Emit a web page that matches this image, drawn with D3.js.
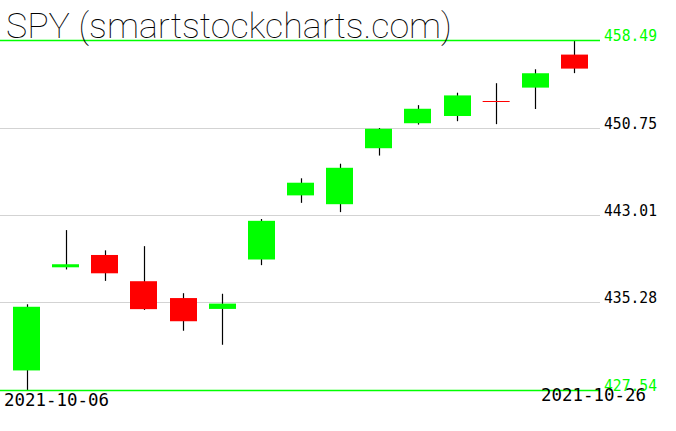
<!DOCTYPE html>
<html><head><meta charset="utf-8">
<script src="https://cdn.jsdelivr.net/npm/d3@7"></script>
<style>body{margin:0;background:#fff}svg{display:block}</style>
</head><body><svg id="c" width="676" height="431"></svg>
<script>
const dates = ["2021-10-06","2021-10-07","2021-10-08","2021-10-11","2021-10-12","2021-10-13","2021-10-14","2021-10-15","2021-10-18","2021-10-19","2021-10-20","2021-10-21","2021-10-22","2021-10-25","2021-10-26"];
const opens  = [429.27,438.39,439.48,437.16,435.67,434.71,439.08,444.75,443.97,448.92,451.13,451.77,453.13,454.28,457.20];
const highs  = [435.12,441.68,439.89,440.26,436.10,436.05,442.66,446.26,447.55,450.71,452.73,453.83,454.67,455.90,458.49];
const lows   = [427.54,438.20,437.19,434.62,432.78,431.54,438.58,444.09,443.27,448.27,451.01,451.31,451.05,452.39,455.56];
const closes = [434.90,438.66,437.86,434.69,433.62,435.18,442.50,445.87,447.19,450.64,452.41,453.59,453.12,455.55,455.96];
const gridTicks = [450.75,443.01,435.28];
const limitTicks = [458.49,427.54];
const title = "SPY (smartstockcharts.com)";

const svg = d3.select("#c");
const y = d3.scaleLinear().domain([427.54,458.49]).range([390,40]);
const x = d3.scaleBand().domain(dates).range([7,594]).paddingInner(0.31).paddingOuter(0.155);
const plotRight = 600;
const px = v => Math.round(v)+0.5;

svg.selectAll("line.grid").data(gridTicks).enter().append("line")
  .attr("x1",0).attr("x2",plotRight).attr("y1",d=>px(y(d))).attr("y2",d=>px(y(d)))
  .attr("stroke","#d3d3d3").attr("stroke-width",1);

const data = dates.map((d,i)=>({d,o:opens[i],h:highs[i],l:lows[i],c:closes[i]}));
const g = svg.append("g");
data.forEach(c=>{
  const cx = Math.round(x(c.d)+x.bandwidth()/2)+0.5;
  g.append("line").attr("x1",cx).attr("x2",cx).attr("y1",y(c.h)).attr("y2",y(c.l))
   .attr("stroke","#000").attr("stroke-width",1.2);
  const up = c.c >= c.o;
  const top = y(Math.max(c.o,c.c)), bot = y(Math.min(c.o,c.c));
  if (bot-top < 1) {
    g.append("line").attr("x1",x(c.d)).attr("x2",x(c.d)+x.bandwidth())
     .attr("y1",px(top)).attr("y2",px(top)).attr("stroke", up?"#00ff00":"#ff0000").attr("stroke-width",1);
  } else {
    g.append("rect").attr("x",Math.round(x(c.d))).attr("width",Math.round(x.bandwidth()))
     .attr("y",top).attr("height",bot-top).attr("fill", up?"#00ff00":"#ff0000");
  }
});

svg.selectAll("line.lim").data(limitTicks).enter().append("line")
  .attr("x1",0).attr("x2",plotRight).attr("y1",d=>px(y(d))).attr("y2",d=>px(y(d)))
  .attr("stroke","#00ff00").attr("stroke-width",1.3);

const mono = "'DejaVu Sans Mono', monospace";
svg.selectAll("text.lim").data(limitTicks).enter().append("text")
  .attr("x",604).attr("y",d=>y(d)+1).text(d=>d.toFixed(2))
  .attr("font-family",mono).attr("font-size",15).attr("fill","#00ff00")
  .attr("textLength",53).attr("lengthAdjust","spacingAndGlyphs");
svg.selectAll("text.grid").data(gridTicks).enter().append("text")
  .attr("x",604).attr("y",d=>y(d)+1).text(d=>d.toFixed(2))
  .attr("font-family",mono).attr("font-size",15).attr("fill","#000")
  .attr("textLength",53).attr("lengthAdjust","spacingAndGlyphs");

svg.append("text").attr("x",4).attr("y",406).text(dates[0])
  .attr("font-family",mono).attr("font-size",17).attr("fill","#000")
  .attr("textLength",105).attr("lengthAdjust","spacingAndGlyphs");
svg.append("text").attr("x",541).attr("y",401).text(dates[dates.length-1])
  .attr("font-family",mono).attr("font-size",17).attr("fill","#000")
  .attr("textLength",105).attr("lengthAdjust","spacingAndGlyphs");

svg.append("text").attr("x",6).attr("y",38).text(title)
  .attr("font-family","Roboto, 'DejaVu Sans', sans-serif").attr("font-weight",100).attr("font-size",35)
  .attr("fill","#000").attr("textLength",446).attr("lengthAdjust","spacingAndGlyphs");
</script></body></html>
